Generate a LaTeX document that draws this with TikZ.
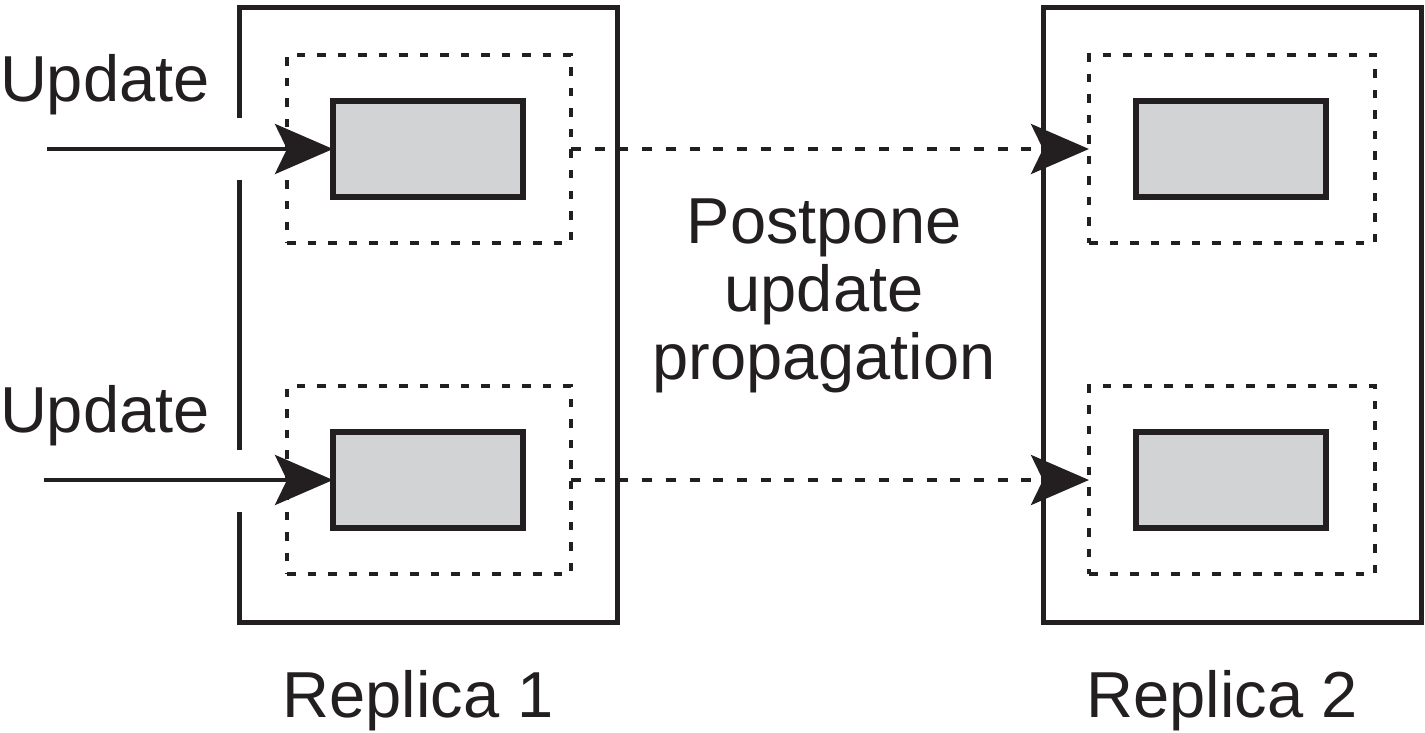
\documentclass[tikz,border=0pt]{standalone}
\usepackage{fontspec}
\setmainfont{Liberation Sans}
\usetikzlibrary{arrows.meta,calc}
\definecolor{ink}{RGB}{35,31,32}
\definecolor{boxgray}{RGB}{209,211,212}
\tikzset{
  frame/.style={draw=none,rectangle,inner sep=0pt,outer sep=0pt,minimum width=378pt,minimum height=614pt},
  outerline/.style={draw=ink,line width=5pt,miter limit=10},
  dotbox/.style={draw=ink,rectangle,inner sep=0pt,outer sep=0pt,line width=4.5pt,dash pattern=on 8.5pt off 12pt,minimum width=284pt,minimum height=188pt},
  graybox/.style={draw=ink,fill=boxgray,rectangle,inner sep=0pt,outer sep=0pt,line width=5.2pt,minimum width=190pt,minimum height=96pt},
  lbl/.style={text=ink,inner sep=0pt,outer sep=0pt,font=\fontsize{65}{70}\selectfont},
  tip/.style={-{Stealth[length=58pt,width=50pt,inset=12pt]}},
  solidarrow/.style={tip,draw=ink,line width=4.5pt},
  dasharrow/.style={tip,draw=ink,line width=4.5pt,dash pattern=on 10pt off 13.7pt},
}
\begin{document}
\begin{tikzpicture}[x=1pt,y=-1pt]
\useasboundingbox (0,0) rectangle (1425,733);
% replica frames
\node[frame] (r1) at (428,315) {};
\node[frame] (r2) at (1232,315) {};
\draw[outerline] ($(r1.north west)+(0,110)$) |- (r1.north east) |- (r1.south west) -- ($(r1.north west)+(0,504)$);
\draw[outerline] ($(r1.north west)+(0,172)$) -- ($(r1.north west)+(0,442)$);
\draw[outerline] (r2.north west) rectangle (r2.south east);
% dotted boxes
\node[dotbox] (d1) at (429,149) {};
\node[dotbox] (d2) at (429,480) {};
\node[dotbox,minimum width=286pt] (d3) at (1232,149) {};
\node[dotbox,minimum width=286pt] (d4) at (1232,480) {};
% gray boxes
\node[graybox] (g1) at (428,149) {};
\node[graybox] (g2) at (428,480) {};
\node[graybox] (g3) at (1231,149) {};
\node[graybox] (g4) at (1231,480) {};
% incoming updates
\coordinate (u1) at (47,149);
\coordinate (u2) at (44,480);
\draw[solidarrow] (u1) -- (g1.west);
\draw[solidarrow] (u2) -- (g2.west);
% propagation
\draw[dasharrow] (d1.east) -- (d3.west);
\draw[dasharrow] (d2.east) -- (d4.west);
% labels
\node[lbl,anchor=base west] (upd1) at (0,102) {Update};
\node[lbl,anchor=base west] (upd2) at (0,432) {Update};
\node[lbl,anchor=base] (p1) at (824,243) {Postpone};
\node[lbl,anchor=base] (p2) at (824,311) {update};
\node[lbl,anchor=base] (p3) at (824,379) {propagation};
\node[lbl,anchor=base] (rep1) at (418,717) {Replica 1};
\node[lbl,anchor=base] (rep2) at (1222,717) {Replica 2};
\end{tikzpicture}
\end{document}
